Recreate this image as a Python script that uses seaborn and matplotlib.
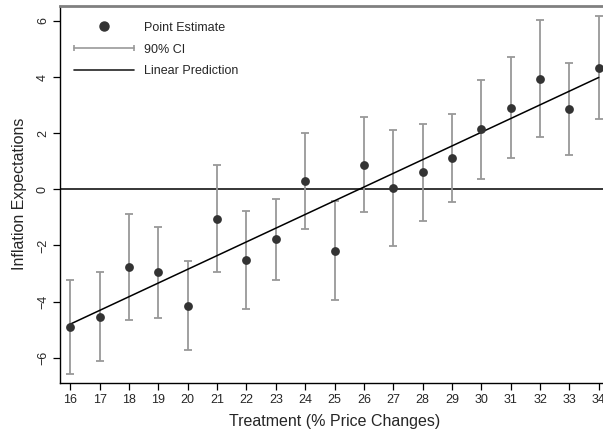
import numpy as np
import pandas as pd
import matplotlib
matplotlib.use('Agg')
import matplotlib.pyplot as plt
from matplotlib.lines import Line2D
from matplotlib.legend_handler import HandlerLine2D
import seaborn as sns

# treatment levels and estimates
treatment = [16, 17, 18, 19, 20, 21, 22, 23, 24, 25, 26, 27, 28, 29, 30, 31, 32, 33, 34]
estimate = [-4.91, -4.54, -2.77, -2.96, -4.16, -1.05, -2.52, -1.78, 0.30, -2.19,
            0.88, 0.05, 0.61, 1.13, 2.14, 2.91, 3.94, 2.86, 4.32]
ci_low = [-6.57, -6.13, -4.66, -4.58, -5.74, -2.94, -4.26, -3.23, -1.42, -3.96,
          -0.82, -2.02, -1.13, -0.45, 0.37, 1.10, 1.85, 1.23, 2.49]
ci_high = [-3.23, -2.94, -0.88, -1.34, -2.57, 0.87, -0.77, -0.33, 2.00, -0.42,
           2.58, 2.13, 2.34, 2.70, 3.90, 4.72, 6.05, 4.49, 6.19]

df = pd.DataFrame({'treatment': treatment, 'estimate': estimate,
                   'lo': ci_low, 'hi': ci_high})

sns.set_style('ticks')
plt.rcParams['font.family'] = ['Liberation Sans', 'DejaVu Sans']

fig = plt.figure(figsize=(6.03, 4.34), dpi=100)
ax = fig.add_axes([0.0995, 0.1175, 0.9105, 0.8698])

ci_col = '#999999'
pt_col = '#333333'

# confidence intervals
ax.errorbar(df.treatment, df.estimate,
            yerr=[df.estimate - df.lo, df.hi - df.estimate],
            fmt='none', ecolor=ci_col, elinewidth=1.3, capsize=3, capthick=1.3, zorder=2)

# zero line
ax.axhline(0, color='black', lw=1.1, zorder=1)

# linear prediction
sns.regplot(data=df, x='treatment', y='estimate', scatter=False, ci=None,
            truncate=True, color='black', line_kws={'lw': 1.1, 'zorder': 3}, ax=ax)

# point estimates
sns.scatterplot(data=df, x='treatment', y='estimate', color=pt_col, s=40,
                edgecolor=pt_col, linewidth=0, zorder=4, ax=ax)

ax.set_xlim(15.65, 34.35)
ax.set_ylim(-6.9, 6.55)
ax.set_xticks(treatment)
ax.set_yticks([-6, -4, -2, 0, 2, 4, 6])
ax.set_yticklabels(['\u22126', '\u22124', '\u22122', '0', '2', '4', '6'], rotation=90, va='center')
ax.tick_params(axis='both', labelsize=9, length=5, width=0.9, color='black', pad=3)
ax.set_xlabel('Treatment (% Price Changes)', fontsize=11.5, labelpad=6)
ax.set_ylabel('Inflation Expectations', fontsize=11.5, labelpad=7)

for s in ['left', 'bottom', 'right']:
    ax.spines[s].set_color('black')
    ax.spines[s].set_linewidth(1.0)
ax.spines['top'].set_color('#808080')
ax.spines['top'].set_linewidth(2.0)

handles = [
    Line2D([], [], color=pt_col, marker='o', linestyle='none', markersize=6.5),
    Line2D([], [], color=ci_col, marker='|', markersize=5, lw=1.2, mew=1.2),
    Line2D([], [], color='#222222', lw=1.2),
]
labels = ['Point Estimate', '90% CI', 'Linear Prediction']
ax.legend(handles, labels, loc='upper left', bbox_to_anchor=(0.002, 0.99),
          frameon=False, fontsize=9,
          handlelength=4.8, handletextpad=0.8, labelspacing=0.78,
          borderaxespad=0.6, numpoints=1,
          handler_map={handles[1]: HandlerLine2D(numpoints=2, marker_pad=0)})

fig.savefig('out.png', dpi=100)
